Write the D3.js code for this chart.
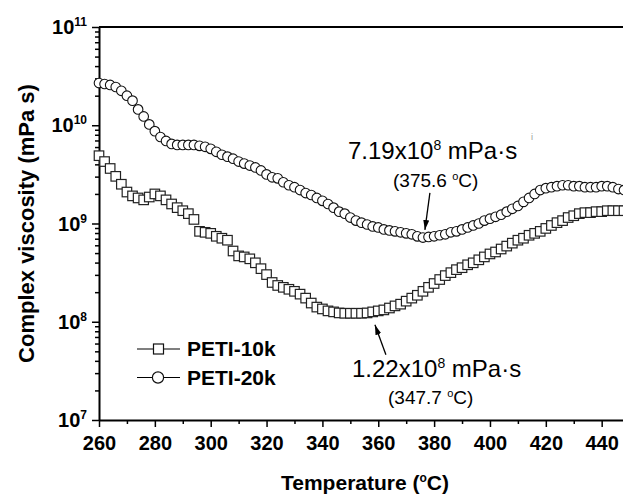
<!DOCTYPE html>
<html>
<head>
<meta charset="utf-8">
<script src="https://cdn.jsdelivr.net/npm/d3@7"></script>
<style>
  body { margin: 0; background: #fff; }
  svg { display: block; font-family: 'Liberation Sans', Arial, Helvetica, sans-serif; }
</style>
</head>
<body>
<div id="chart"></div>
<script>
// temperature (C) of each measured point
const temps = [
  260, 262, 264, 266, 268, 270, 272, 274, 276, 278,
  280, 282, 284, 286, 288, 290, 292, 294, 296, 298,
  300, 302, 304, 306, 308, 310, 312, 314, 316, 318,
  320, 322, 324, 326, 328, 330, 332, 334, 336, 338,
  340, 342, 344, 346, 348, 350, 352, 354, 356, 358,
  360, 362, 364, 366, 368, 370, 372, 374, 376, 378,
  380, 382, 384, 386, 388, 390, 392, 394, 396, 398,
  400, 402, 404, 406, 408, 410, 412, 414, 416, 418,
  420, 422, 424, 426, 428, 430, 432, 434, 436, 438,
  440, 442, 444, 446, 448
]

// complex viscosity (mPa s)
const peti10k = [
  4.90e9, 4.27e9, 3.63e9, 3.02e9, 2.51e9, 2.09e9, 1.91e9, 1.82e9, 1.74e9, 1.86e9,
  2.00e9, 1.91e9, 1.74e9, 1.58e9, 1.45e9, 1.35e9, 1.26e9, 1.10e9, 8.32e8, 8.13e8,
  7.94e8, 7.41e8, 7.08e8, 6.76e8, 5.25e8, 4.68e8, 4.57e8, 4.37e8, 3.98e8, 3.47e8,
  3.02e8, 2.51e8, 2.34e8, 2.24e8, 2.14e8, 2.04e8, 1.91e8, 1.74e8, 1.55e8, 1.41e8,
  1.35e8, 1.29e8, 1.26e8, 1.23e8, 1.22e8, 1.22e8, 1.22e8, 1.22e8, 1.23e8, 1.26e8,
  1.29e8, 1.32e8, 1.38e8, 1.45e8, 1.51e8, 1.62e8, 1.74e8, 1.86e8, 2.04e8, 2.24e8,
  2.45e8, 2.69e8, 2.95e8, 3.16e8, 3.39e8, 3.55e8, 3.80e8, 3.98e8, 4.27e8, 4.57e8,
  4.90e8, 5.13e8, 5.50e8, 5.89e8, 6.31e8, 6.76e8, 7.08e8, 7.59e8, 7.94e8, 8.32e8,
  8.91e8, 9.55e8, 1.02e9, 1.07e9, 1.15e9, 1.20e9, 1.26e9, 1.29e9, 1.29e9, 1.32e9,
  1.32e9, 1.35e9, 1.35e9, 1.35e9, 1.35e9
]
const peti20k = [
  2.69e10, 2.63e10, 2.57e10, 2.45e10, 2.24e10, 2.00e10, 1.78e10, 1.45e10, 1.23e10, 1.02e10,
  8.71e9, 7.59e9, 6.92e9, 6.46e9, 6.31e9, 6.31e9, 6.31e9, 6.31e9, 6.17e9, 6.03e9,
  5.75e9, 5.37e9, 5.01e9, 4.79e9, 4.57e9, 4.27e9, 4.07e9, 3.89e9, 3.72e9, 3.47e9,
  3.16e9, 2.95e9, 2.88e9, 2.63e9, 2.45e9, 2.34e9, 2.19e9, 2.04e9, 1.95e9, 1.82e9,
  1.70e9, 1.58e9, 1.45e9, 1.32e9, 1.26e9, 1.15e9, 1.07e9, 1.02e9, 9.77e8, 9.33e8,
  9.12e8, 8.71e8, 8.51e8, 8.32e8, 8.13e8, 7.94e8, 7.76e8, 7.40e8, 7.19e8, 7.30e8,
  7.41e8, 7.59e8, 7.76e8, 8.13e8, 8.32e8, 8.71e8, 9.12e8, 9.55e8, 1.00e9, 1.07e9,
  1.12e9, 1.17e9, 1.23e9, 1.32e9, 1.41e9, 1.51e9, 1.66e9, 1.82e9, 2.00e9, 2.19e9,
  2.29e9, 2.34e9, 2.40e9, 2.45e9, 2.45e9, 2.40e9, 2.40e9, 2.34e9, 2.34e9, 2.34e9,
  2.40e9, 2.40e9, 2.34e9, 2.24e9, 2.19e9
]

const seriesNames = ['PETI-10k', 'PETI-20k']
const xTicks = [260, 280, 300, 320, 340, 360, 380, 400, 420, 440]
const yTicks = [1e7, 1e8, 1e9, 1e10, 1e11]
const yTickExponents = ['7', '8', '9', '10', '11']

// minimum viscosity callouts: arrow tip sits just off the curve
const callouts = [
  {value: '7.19', temp: '375.6', tipT: 376.7, tipV: 8.6e8},
  {value: '1.22', temp: '347.7', tipT: 358.8, tipV: 9.3e7}
]

let width = 623
let height = 496
let margin = {top: 27, left: 99, bottom: 76}

let x = d3.scaleLinear()
          .domain([260, 450])
          .range([margin.left, margin.left + 530.6])
let y = d3.scaleLog()
          .domain([1e7, 1e11])
          .range([height - margin.bottom, margin.top])

let svg = d3.select('#chart').append('svg')
    .attr('width', width)
    .attr('height', height)

let defs = svg.append('defs')
defs.append('marker')
    .attr('id', 'arrow')
    .attr('markerUnits', 'userSpaceOnUse')
    .attr('markerWidth', 10)
    .attr('markerHeight', 6)
    .attr('refX', 10)
    .attr('refY', 3)
    .attr('orient', 'auto')
  .append('path')
    .attr('d', 'M0,0L10,3L0,6Z')
    .attr('fill', '#000')

let y0 = y.range()[0]

// x axis, minor ticks first
let xMinor = xTicks.map(d => d + 10)
svg.append('g')
    .attr('transform', 'translate(0,' + y0 + ')')
    .call(d3.axisBottom(x).tickValues(xMinor).tickSize(4).tickFormat(''))
  .call(g => g.select('.domain').remove())
let xAxisG = svg.append('g')
    .attr('class', 'x axis')
    .attr('transform', 'translate(0,' + y0 + ')')
    .call(d3.axisBottom(x).tickValues(xTicks).tickSize(7).tickSizeOuter(0))
xAxisG.selectAll('text')
    .attr('y', 16)
    .attr('dy', '0.71em')
    .style('font-size', '20px')
    .style('font-weight', 'bold')
    .attr('fill', '#000')

// y axis with log minor ticks
let yMinor = []
yTicks.slice(0, -1).forEach(d => {
  for (let k = 2; k < 10; k++) yMinor.push(d * k)
})
svg.append('g')
    .attr('transform', 'translate(' + margin.left + ',0)')
    .call(d3.axisLeft(y).tickValues(yMinor).tickSize(4).tickFormat(''))
  .call(g => g.select('.domain').remove())
let yAxisG = svg.append('g')
    .attr('class', 'y axis')
    .attr('transform', 'translate(' + margin.left + ',0)')
    .call(d3.axisLeft(y).tickValues(yTicks).tickSize(7).tickSizeOuter(0).tickFormat(''))

svg.selectAll('.domain').attr('stroke-width', 2)
svg.selectAll('.tick line').attr('stroke-width', 1.5)

let yLabels = svg.append('g')
    .style('font-weight', 'bold')
  .selectAll('text')
  .data(yTicks)
  .join('text')
    .attr('x', 87)
    .attr('y', d => y(d) + 7)
    .attr('text-anchor', 'end')
    .style('font-size', '20px')
yLabels.append('tspan').text('10')
yLabels.append('tspan')
    .attr('dy', -8)
    .style('font-size', '12px')
    .text((d, i) => yTickExponents[i])

// top frame line
svg.append('line')
    .attr('x1', margin.left)
    .attr('x2', width)
    .attr('y1', y.range()[1])
    .attr('y2', y.range()[1])
    .attr('stroke', '#000')
    .attr('stroke-width', 2)

// axis titles
let xTitle = svg.append('text')
    .attr('x', 365)
    .attr('y', 490)
    .attr('text-anchor', 'middle')
    .style('font-size', '21px')
    .style('font-weight', 'bold')
xTitle.append('tspan').text('Temperature (')
xTitle.append('tspan').attr('dy', -8).style('font-size', '12px').text('o')
xTitle.append('tspan').attr('dy', 8).text('C)')

svg.append('text')
    .attr('transform', 'translate(34,' + ((y.range()[0] + y.range()[1]) / 2) + ')rotate(-90)')
    .attr('text-anchor', 'middle')
    .style('font-size', '22px')
    .style('font-weight', 'bold')
    .text('Complex viscosity (mPa s)')

// markers
let pts10 = temps.map((t, i) => ({t: t, v: peti10k[i]}))
let pts20 = temps.map((t, i) => ({t: t, v: peti20k[i]}))
let sq = 9.5
let r = 4.8

svg.append('g')
    .attr('class', 'peti10k')
  .selectAll('rect')
  .data(pts10)
  .join('rect')
    .attr('x', d => x(d.t) - sq / 2)
    .attr('y', d => y(d.v) - sq / 2)
    .attr('width', sq)
    .attr('height', sq)
    .attr('fill', '#fff')
    .attr('stroke', '#222')
    .attr('stroke-width', 1.2)

svg.append('g')
    .attr('class', 'peti20k')
  .selectAll('circle')
  .data(pts20)
  .join('circle')
    .attr('cx', d => x(d.t))
    .attr('cy', d => y(d.v))
    .attr('r', r)
    .attr('fill', '#fff')
    .attr('stroke', '#111')
    .attr('stroke-width', 1.1)

// legend
let legend = svg.append('g').attr('class', 'legend')
seriesNames.forEach((name, i) => {
  let ly = 349 + i * 28.5
  let row = legend.append('g')
  row.append('line')
      .attr('x1', 137).attr('x2', 180)
      .attr('y1', ly).attr('y2', ly)
      .attr('stroke', '#000')
      .attr('stroke-width', 1.2)
  if (i === 0) {
    row.append('rect')
        .attr('x', 158.5 - 5).attr('y', ly - 5)
        .attr('width', 10).attr('height', 10)
        .attr('fill', '#fff').attr('stroke', '#111').attr('stroke-width', 1.2)
  } else {
    row.append('circle')
        .attr('cx', 158).attr('cy', ly)
        .attr('r', 5.6)
        .attr('fill', '#fff').attr('stroke', '#111').attr('stroke-width', 1.2)
  }
  row.append('text')
      .attr('x', 187)
      .attr('y', ly + 7)
      .style('font-size', '21px')
      .style('font-weight', 'bold')
      .text(name)
})

// callouts
let calloutLayout = [
  {tail: [5, -37], main: [348, 159], sub: [393, 187]},
  {tail: [11, 30], main: [352, 377], sub: [388, 404]}
]
callouts.forEach((c, i) => {
  let L = calloutLayout[i]
  let tx = x(c.tipT)
  let ty = y(c.tipV)
  svg.append('line')
      .attr('x1', tx + L.tail[0]).attr('y1', ty + L.tail[1])
      .attr('x2', tx).attr('y2', ty)
      .attr('stroke', '#000')
      .attr('stroke-width', 1.3)
      .attr('marker-end', 'url(#arrow)')
  let main = svg.append('text')
      .attr('x', L.main[0])
      .attr('y', L.main[1])
      .style('font-size', '24px')
  main.append('tspan').text(c.value + 'x10')
  main.append('tspan').attr('dy', -9).style('font-size', '14px').text('8')
  main.append('tspan').attr('dy', 9).text(' mPa\u00b7s')
  let sub = svg.append('text')
      .attr('x', L.sub[0])
      .attr('y', L.sub[1])
      .style('font-size', '19px')
  sub.append('tspan').text('(' + c.temp + ' ')
  sub.append('tspan').attr('dy', -7).style('font-size', '11px').text('o')
  sub.append('tspan').attr('dy', 7).text('C)')
})

// stray mark in the scanned figure
svg.append('text')
    .attr('x', 531)
    .attr('y', 140)
    .style('font-size', '9px')
    .attr('fill', '#999')
    .text('i')
</script>
</body>
</html>
